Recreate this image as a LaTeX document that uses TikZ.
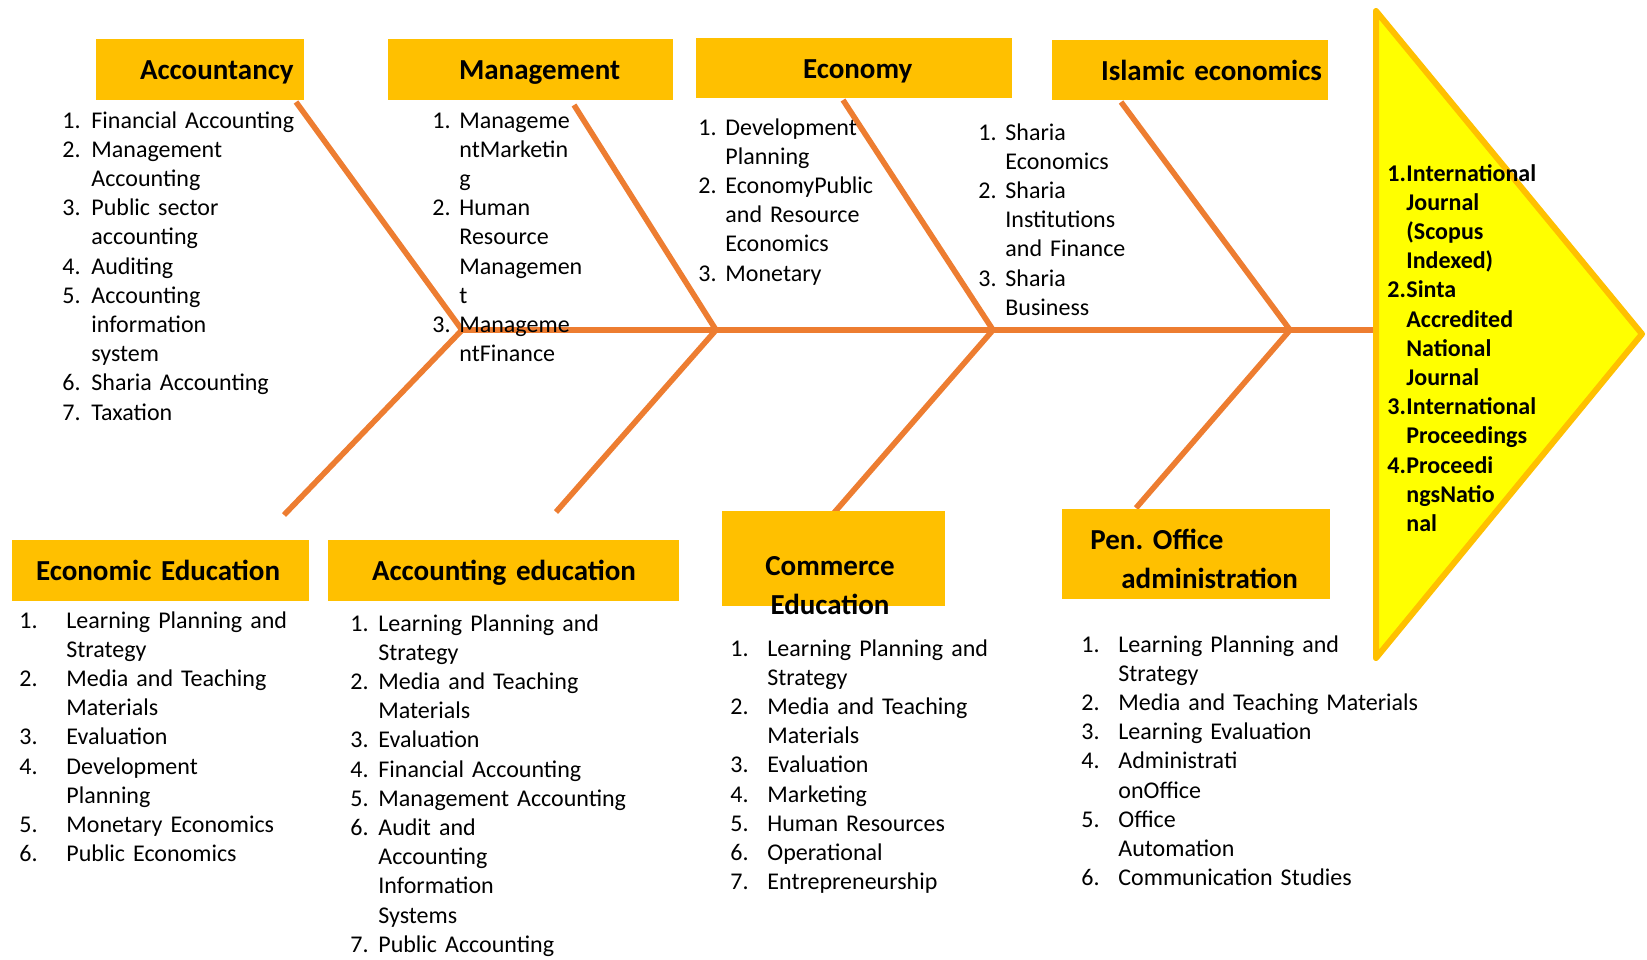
\documentclass[tikz,border=0pt]{standalone}
\usepackage{fontspec}
\setmainfont{Carlito}[WordSpace=0.6]
\frenchspacing
\definecolor{bonec}{HTML}{ED7D31}
\definecolor{boxc}{HTML}{FFC000}
\definecolor{headc}{HTML}{FFFF00}
\newlength\numw
\newcommand\li[2]{\makebox[\numw][l]{#1}#2}
\newcommand\lc[1]{\hspace*{\numw}#1}
\tikzset{
  bone/.style={draw=bonec, line width=2.8pt},
  hdr/.style={fill=boxc, inner sep=0pt, text height=12pt, text depth=2pt, align=left,
    font=\fontsize{14.5}{19.5}\selectfont\bfseries},
  hdrtxt/.style={inner sep=0pt, font=\fontsize{14.5}{19.5}\selectfont\bfseries},
  items/.style={anchor=base west, inner sep=0pt, text width=200pt, align=left,
    font=\fontsize{12}{14.6}\selectfont},
  numw/.code={\setlength{\numw}{#1}}
}

\begin{document}
\begin{tikzpicture}[x=0.5pt,y=-0.5pt]
\useasboundingbox (0,0) rectangle (1647,959);

% spine, bones and head
\coordinate (j1) at (462,330);
\coordinate (j2) at (716,330);
\coordinate (j3) at (993,330);
\coordinate (j4) at (1290,330);
\coordinate (head) at (1376,330);
\coordinate (b1t) at (296,102);  \coordinate (b1b) at (284,515);
\coordinate (b2t) at (574,105);  \coordinate (b2b) at (556,512);
\coordinate (b3t) at (843,100);  \coordinate (b3b) at (833,514);
\coordinate (b4t) at (1121,102); \coordinate (b4b) at (1136,508);

\draw[bone] (j1) -- (head);
\draw[bone] (b1t) -- (j1) -- (b1b);
\draw[bone] (b2t) -- (j2) -- (b2b);
\draw[bone] (b3t) -- (j3) -- (b3b);
\draw[bone] (b4t) -- (j4) -- (b4b);
\draw[line width=3pt, draw=boxc, fill=headc, line join=round] (1376,11) -- (1642,334) -- (1376,658) -- cycle;

% top categories
\node[hdr, minimum height=30.5pt, text width=104pt] (acc) at (200,69.5) {\hspace*{22pt}\mbox{Accountancy}};
\node[hdr, minimum height=30.5pt, text width=142.5pt] (man) at (530.5,69.5) {\hspace*{35.5pt}\mbox{Management}};
\node[hdr, minimum height=30pt, text width=158pt] (eco) at (854,68) {\hspace*{53.5pt}\mbox{Economy}};
\node[hdr, minimum height=30pt, text width=138pt] (isl) at (1190,70) {\hspace*{24.5pt}\mbox{Islamic economics}};

% bottom categories
\node[hdr, minimum height=30.5pt, text width=148.5pt] (ecoed) at (160.5,570.5) {\hspace*{12pt}\mbox{Economic Education}};
\node[hdr, minimum height=30.5pt, text width=175.5pt] (acced) at (503.5,570.5) {\hspace*{22pt}\mbox{Accounting education}};
\node[fill=boxc, minimum width=111.5pt, minimum height=47.5pt, inner sep=0pt] (com) at (833.5,558.5) {};
\node[hdrtxt, anchor=base, text width=100pt, align=center] (comt) at (830,575) {Commerce\\Education};
\node[fill=boxc, minimum width=134pt, minimum height=45pt, inner sep=0pt] (pen) at (1196,554) {};
\node[hdrtxt, anchor=base west, text width=130pt, align=left] (pent) at (1090,549) {Pen. Office\\\hspace*{15.5pt}administration};

% lists
\node[items, numw=14.5pt] (acclist) at (62,128) {\li{1.}{Financial Accounting}\\ \li{2.}{Management}\\ \lc{Accounting}\\
  \li{3.}{Public sector}\\ \lc{accounting}\\ \li{4.}{Auditing}\\ \li{5.}{Accounting}\\ \lc{information}\\ \lc{system}\\
  \li{6.}{Sharia Accounting}\\ \li{7.}{Taxation}};
\node[items, numw=13.5pt] (manlist) at (432,128) {\li{1.}{Manageme}\\ \lc{ntMarketin}\\ \lc{g}\\ \li{2.}{Human}\\ \lc{Resource}\\
  \lc{Managemen}\\ \lc{t}\\ \li{3.}{Manageme}\\ \lc{ntFinance}};
\node[items, numw=13.5pt] (ecolist) at (698,135) {\li{1.}{Development}\\ \lc{Planning}\\ \li{2.}{EconomyPublic}\\ \lc{and Resource}\\
  \lc{Economics}\\ \li{3.}{Monetary}};
\node[items, numw=13.5pt] (isllist) at (978,140) {\li{1.}{Sharia}\\ \lc{Economics}\\ \li{2.}{Sharia}\\ \lc{Institutions}\\
  \lc{and Finance}\\ \li{3.}{Sharia}\\ \lc{Business}};
\node[items, numw=23.5pt] (ecoedlist) at (19,628) {\li{1.}{Learning Planning and}\\ \lc{Strategy}\\ \li{2.}{Media and Teaching}\\
  \lc{Materials}\\ \li{3.}{Evaluation}\\ \li{4.}{Development}\\ \lc{Planning}\\ \li{5.}{Monetary Economics}\\ \li{6.}{Public Economics}};
\node[items, numw=14pt] (accedlist) at (350,631) {\li{1.}{Learning Planning and}\\ \lc{Strategy}\\ \li{2.}{Media and Teaching}\\
  \lc{Materials}\\ \li{3.}{Evaluation}\\ \li{4.}{Financial Accounting}\\ \li{5.}{Management Accounting}\\ \li{6.}{Audit and}\\
  \lc{Accounting}\\ \lc{Information}\\ \lc{Systems}\\ \li{7.}{Public Accounting}};
\node[items, numw=18.5pt] (comlist) at (730,656) {\li{1.}{Learning Planning and}\\ \lc{Strategy}\\ \li{2.}{Media and Teaching}\\
  \lc{Materials}\\ \li{3.}{Evaluation}\\ \li{4.}{Marketing}\\ \li{5.}{Human Resources}\\ \li{6.}{Operational}\\ \li{7.}{Entrepreneurship}};
\node[items, numw=18.5pt] (penlist) at (1081,652) {\li{1.}{Learning Planning and}\\ \lc{Strategy}\\ \li{2.}{Media and Teaching Materials}\\
  \li{3.}{Learning Evaluation}\\ \li{4.}{Administrati}\\ \lc{onOffice}\\ \li{5.}{Office}\\ \lc{Automation}\\ \li{6.}{Communication Studies}};

% outcomes in the head
\node[items, numw=9.5pt, font=\fontsize{12}{14.6}\selectfont\bfseries] (outlist) at (1387,181) {\li{1.}{International}\\ \lc{Journal}\\
  \lc{(Scopus}\\ \lc{Indexed)}\\ \li{2.}{Sinta}\\ \lc{Accredited}\\ \lc{National}\\ \lc{Journal}\\ \li{3.}{International}\\
  \lc{Proceedings}\\ \li{4.}{Proceedi}\\ \lc{ngsNatio}\\ \lc{nal}};

\end{tikzpicture}
\end{document}
